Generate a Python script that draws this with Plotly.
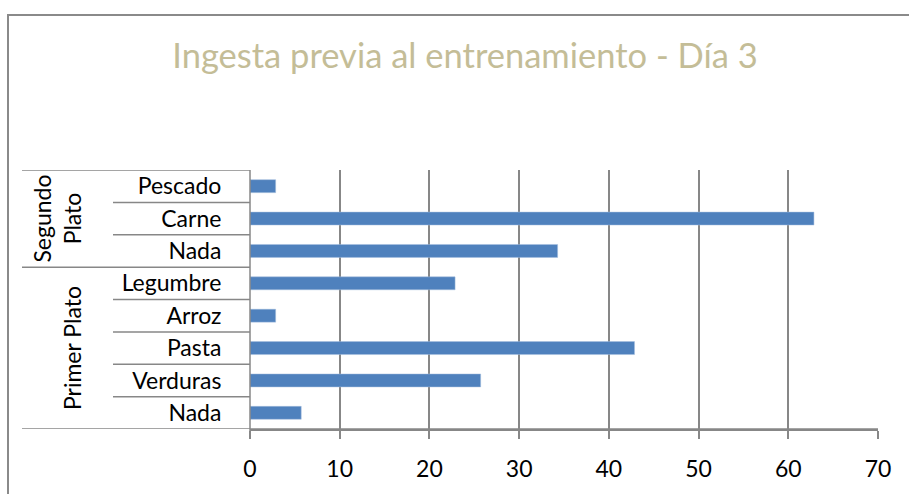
import plotly.graph_objects as go

# ---- data ----
categories = ["Nada", "Verduras", "Pasta", "Arroz", "Legumbre", "Nada", "Carne", "Pescado"]
groups = ["Primer Plato"] * 5 + ["Segundo Plato"] * 3
values = [5.71, 25.71, 42.86, 2.86, 22.86, 34.29, 62.86, 2.86]
group_labels = {"Primer Plato": "Primer Plato", "Segundo Plato": "Segundo<br>Plato"}
x_ticks = [0, 10, 20, 30, 40, 50, 60, 70]
title_text = "Ingesta previa al entrenamiento - Día 3"

W, H = 909, 494
L, R, T, B = 250, 878, 170, 434
FONT = "Lato"
GRID = "#878787"


def px_x(px):
    return (px - L) / (R - L)


def px_y(py):
    return (B - py) / (B - T)


ypos = list(range(len(categories)))

fig = go.Figure()
fig.add_trace(go.Bar(
    x=values, y=ypos, orientation="h",
    marker=dict(color="#4F81BD", line=dict(color="#A7BFDE", width=0.5)),
    width=0.4, showlegend=False, hoverinfo="x",
))

shapes = []
# outer chart border (left and top only visible)
shapes.append(dict(type="rect", xref="paper", yref="paper",
                   x0=px_x(8), x1=px_x(930), y0=px_y(12), y1=px_y(520),
                   line=dict(color="#8a8a8a", width=2), layer="below"))

# category dividers
n = len(categories)
for i in range(n + 1):
    yb = i - 0.5
    is_group_edge = (i == 0 or i == n or groups[i - 1] != groups[i])
    x0 = px_x(22) if is_group_edge else px_x(113)
    x1 = px_x(R) if i == 0 else px_x(L)
    shapes.append(dict(type="line", xref="paper", yref="y",
                       x0=x0, x1=x1, y0=yb, y1=yb,
                       line=dict(color=GRID, width=1.5)))

# vertical axis line
shapes.append(dict(type="line", xref="paper", yref="paper",
                   x0=0, x1=0, y0=px_y(442), y1=1,
                   line=dict(color=GRID, width=1.5)))

annotations = []
# group labels
for g in dict.fromkeys(groups):
    idx = [i for i, gg in enumerate(groups) if gg == g]
    ymid = (idx[0] + idx[-1]) / 2
    xc = px_x(72) if "<br>" not in group_labels[g] else px_x(57)
    annotations.append(dict(text=group_labels[g], xref="paper", yref="y",
                            x=xc, y=ymid, showarrow=False, textangle=-90,
                            font=dict(family=FONT, size=23, color="#000000"),
                            xanchor="center", yanchor="middle"))

fig.update_layout(
    width=W, height=H,
    margin=dict(l=L, r=W - R, t=T, b=H - B, pad=0),
    paper_bgcolor="white", plot_bgcolor="white",
    title=dict(text=title_text, x=465 / W, xanchor="center",
               y=1 - 56 / H, yanchor="middle",
               font=dict(family=FONT, size=34.5, color="#C4BD97")),
    xaxis=dict(range=[0, 70], tickvals=x_ticks, ticktext=[str(v) for v in x_ticks],
               showgrid=True, gridcolor=GRID, gridwidth=1.5,
               zeroline=False, showline=True, linecolor=GRID, linewidth=1.5,
               ticks="outside", ticklen=8, tickcolor=GRID, tickwidth=1.5,
               ticklabelstandoff=11,
               tickfont=dict(family=FONT, size=23, color="#000000"),
               fixedrange=True),
    yaxis=dict(range=[-0.5, n - 0.5], tickvals=ypos, ticktext=categories,
               showgrid=False, zeroline=False, showline=False,
               ticks="outside", ticklen=23, tickcolor="rgba(0,0,0,0)",
               tickfont=dict(family=FONT, size=23, color="#000000"),
               fixedrange=True),
    shapes=shapes, annotations=annotations,
    bargap=0.6,
)

fig.write_html("out.html")
